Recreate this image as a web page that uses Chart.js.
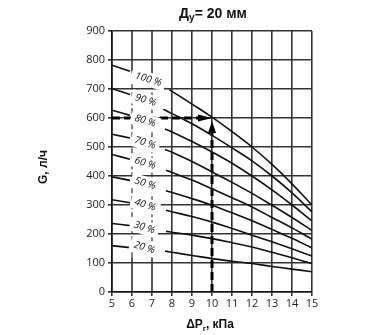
<!DOCTYPE html>
<html>
<head>
<meta charset="utf-8">
<script src="https://cdn.jsdelivr.net/npm/chart.js@4/dist/chart.umd.min.js"></script>
<style>
html,body{margin:0;padding:0;background:#fff;}
</style>
</head>
<body>
<canvas id="valve_chart" width="383" height="335"></canvas>
<script>
/* DATA SETTING */
// valve opening curves, top (100 %) to bottom (20 %)
let opening_labels=["100 %","90 %","80 %","70 %","60 %","50 %","40 %","30 %","20 %"];

// short left piece of each curve (dP 5 .. 5.9)
let left_dP=[5,5.9];
let left_G=[
  [782,761],[701,681],[627,609],[544,531],[474,458],
  [397,385],[318,308],[236,229],[160,153]
];

// right piece: first point at its own start dP, then dP 8..15
let right_start_dP=[7.87,7.57,7.65,7.65,7.7,7.7,7.7,7.7,7.65];
let right_dP=[8,9,10,11,12,13,14,15];
let right_G=[
  [698,692,648,603,553,500,440,373,300],
  [630,615,580,540,497,452,400,342,276],
  [562,552,519,483,444,400,352,300,245],
  [491,482,450,414,378,340,299,257,212],
  [420,412,386,356,325,293,257,221,182],
  [349,343,322,299,273,246,216,185,152],
  [282,277,260,241,219,196,173,149,124],
  [209,206,196,184,170,155,137,118,98],
  [141,137,126,115,106,98,88,79,70]
];

// where the % labels sit
let label_dP=[6.82,6.68,6.66,6.66,6.66,6.66,6.66,6.62,6.62];
let label_G=[733,661,590,514,444,374,300,222,153];

// dashed guide columns at dP 6 and 7 (G from .. to)
let guide_dP=[6,7];
let guide_G_from=[120,120];
let guide_G_to=[760,712];

// example reading: dP 10 kPa -> G 600 l/h
let example_dP=10;
let example_G=600;
let example_h_arrow_from=9.3;   // arrow head on horizontal line starts here
let example_v_arrow_from=548;   // arrow head on vertical line starts here
let example_v_arrow_tip=590;

let x_min=5, x_max=15, y_min=0, y_max=900;

/* BUILD DATASETS */
let curve_sets=opening_labels.map(function(lbl,i){
  let pts=[{x:left_dP[0],y:left_G[i][0]},{x:left_dP[1],y:left_G[i][1]},{x:6.5,y:null},
           {x:right_start_dP[i],y:right_G[i][0]}];
  right_dP.forEach(function(d,j){ pts.push({x:d,y:right_G[i][j+1]}); });
  return {label:lbl,data:pts,borderColor:'#111',borderWidth:1.6,pointRadius:0,
          fill:false,spanGaps:false,tension:0.4};
});

let guide_sets=[];
guide_dP.forEach(function(d,i){
  guide_sets.push({ // solid ends
    data:[{x:d,y:y_min},{x:d,y:guide_G_from[i]},{x:d,y:null},{x:d,y:guide_G_to[i]},{x:d,y:y_max}],
    borderColor:'#333',borderWidth:1.6,pointRadius:0,spanGaps:false
  });
  guide_sets.push({ // dashed middle
    data:[{x:d,y:guide_G_from[i]},{x:d,y:guide_G_to[i]}],
    borderColor:'#333',borderWidth:1.2,borderDash:[5,3],pointRadius:0
  });
});

let example_sets=[
  {data:[{x:x_min,y:example_G},{x:example_h_arrow_from,y:example_G}],
   borderColor:'#000',borderWidth:3,borderDash:[8,4],pointRadius:0},
  {data:[{x:example_dP,y:y_min},{x:example_dP,y:example_v_arrow_from}],
   borderColor:'#000',borderWidth:3,borderDash:[8,4],pointRadius:0}
];

/* PLUGINS */
// % labels with white box behind, plus arrow heads
const overlay_plugin={
  id:'overlay',
  afterDatasetsDraw:function(chart){
    const ctx=chart.ctx, xs=chart.scales.x, ys=chart.scales.y;
    ctx.save();
    ctx.font='italic 10px "Open Sans"';
    opening_labels.forEach(function(lbl,i){
      const px=xs.getPixelForValue(label_dP[i]), py=ys.getPixelForValue(label_G[i]);
      const w=ctx.measureText(lbl).width;
      ctx.save();
      ctx.translate(px,py);
      ctx.rotate(17*Math.PI/180);
      ctx.fillStyle='#fff';
      ctx.fillRect(-w/2-4,-7,w+8,14);
      ctx.fillStyle='#111';
      ctx.textAlign='center';
      ctx.textBaseline='middle';
      ctx.fillText(lbl,0,0);
      ctx.restore();
    });
    // arrow heads
    ctx.fillStyle='#000';
    let tx=xs.getPixelForValue(example_dP), ty=ys.getPixelForValue(example_G);
    let bx=xs.getPixelForValue(example_h_arrow_from);
    ctx.beginPath();
    ctx.moveTo(tx,ty); ctx.lineTo(bx,ty-3.5); ctx.lineTo(bx,ty+3.5); ctx.closePath(); ctx.fill();
    let vy=ys.getPixelForValue(example_v_arrow_tip), vb=ys.getPixelForValue(example_v_arrow_from);
    ctx.beginPath();
    ctx.moveTo(tx,vy); ctx.lineTo(tx-4,vb); ctx.lineTo(tx+4,vb); ctx.closePath(); ctx.fill();
    ctx.restore();
  },
  afterDraw:function(chart){
    const ctx=chart.ctx, area=chart.chartArea;
    ctx.save();
    ctx.fillStyle='#111';
    ctx.textBaseline='alphabetic';
    // text with one subscript piece
    function sub_text(parts,cx,cy,size){
      let big='bold '+size+'px "Liberation Sans"', small='bold '+Math.round(size*0.7)+'px "Liberation Sans"';
      ctx.font=big; let w0=ctx.measureText(parts[0]).width, w2=ctx.measureText(parts[2]).width;
      ctx.font=small; let w1=ctx.measureText(parts[1]).width;
      let x=cx-(w0+w1+w2)/2;
      ctx.font=big; ctx.fillText(parts[0],x,cy);
      ctx.font=small; ctx.fillText(parts[1],x+w0,cy+3);
      ctx.font=big; ctx.fillText(parts[2],x+w0+w1,cy);
    }
    let mid=(area.left+area.right)/2;
    sub_text(["Д","у","= 20 мм"],mid+1,18,14);
    sub_text(["ΔP","r",", кПа"],mid-2,328,12);
    ctx.save();
    ctx.translate(47,167);
    ctx.rotate(-Math.PI/2);
    ctx.font='bold 12px "Liberation Sans"';
    ctx.textAlign='center';
    ctx.fillText("G, л/ч",0,0);
    ctx.restore();
    ctx.restore();
  }
};

/* CHART SETTING */
const chart_dom=document.getElementById('valve_chart').getContext('2d');
const valveChart=new Chart(chart_dom,{
  type:'line',
  data:{datasets:curve_sets.concat(guide_sets,example_sets)},
  options:{
    responsive:false,
    animation:false,
    layout:{padding:{left:0,right:71,top:31,bottom:0}},
    plugins:{legend:{display:false},tooltip:{enabled:false}},
    scales:{
      x:{
        type:'linear',min:x_min,max:x_max,
        ticks:{stepSize:1,color:'#222',padding:1,font:{family:'"Open Sans"',size:11}},
        grid:{
          color:function(c){ return (c.tick && guide_dP.indexOf(c.tick.value)>=0) ? 'rgba(0,0,0,0)' : '#333'; },
          lineWidth:1.6,tickLength:4,tickColor:'#333'
        },
        border:{color:'#111',width:1.6},
        afterFit:function(s){ s.height=43; }
      },
      y:{
        min:y_min,max:y_max,
        ticks:{stepSize:100,color:'#222',padding:3,font:{family:'"Open Sans"',size:11}},
        grid:{color:'#333',lineWidth:1.6,tickLength:4,tickColor:'#333'},
        border:{color:'#111',width:1.6},
        afterFit:function(s){ s.width=112; }
      }
    }
  },
  plugins:[overlay_plugin]
});
</script>
</body>
</html>
